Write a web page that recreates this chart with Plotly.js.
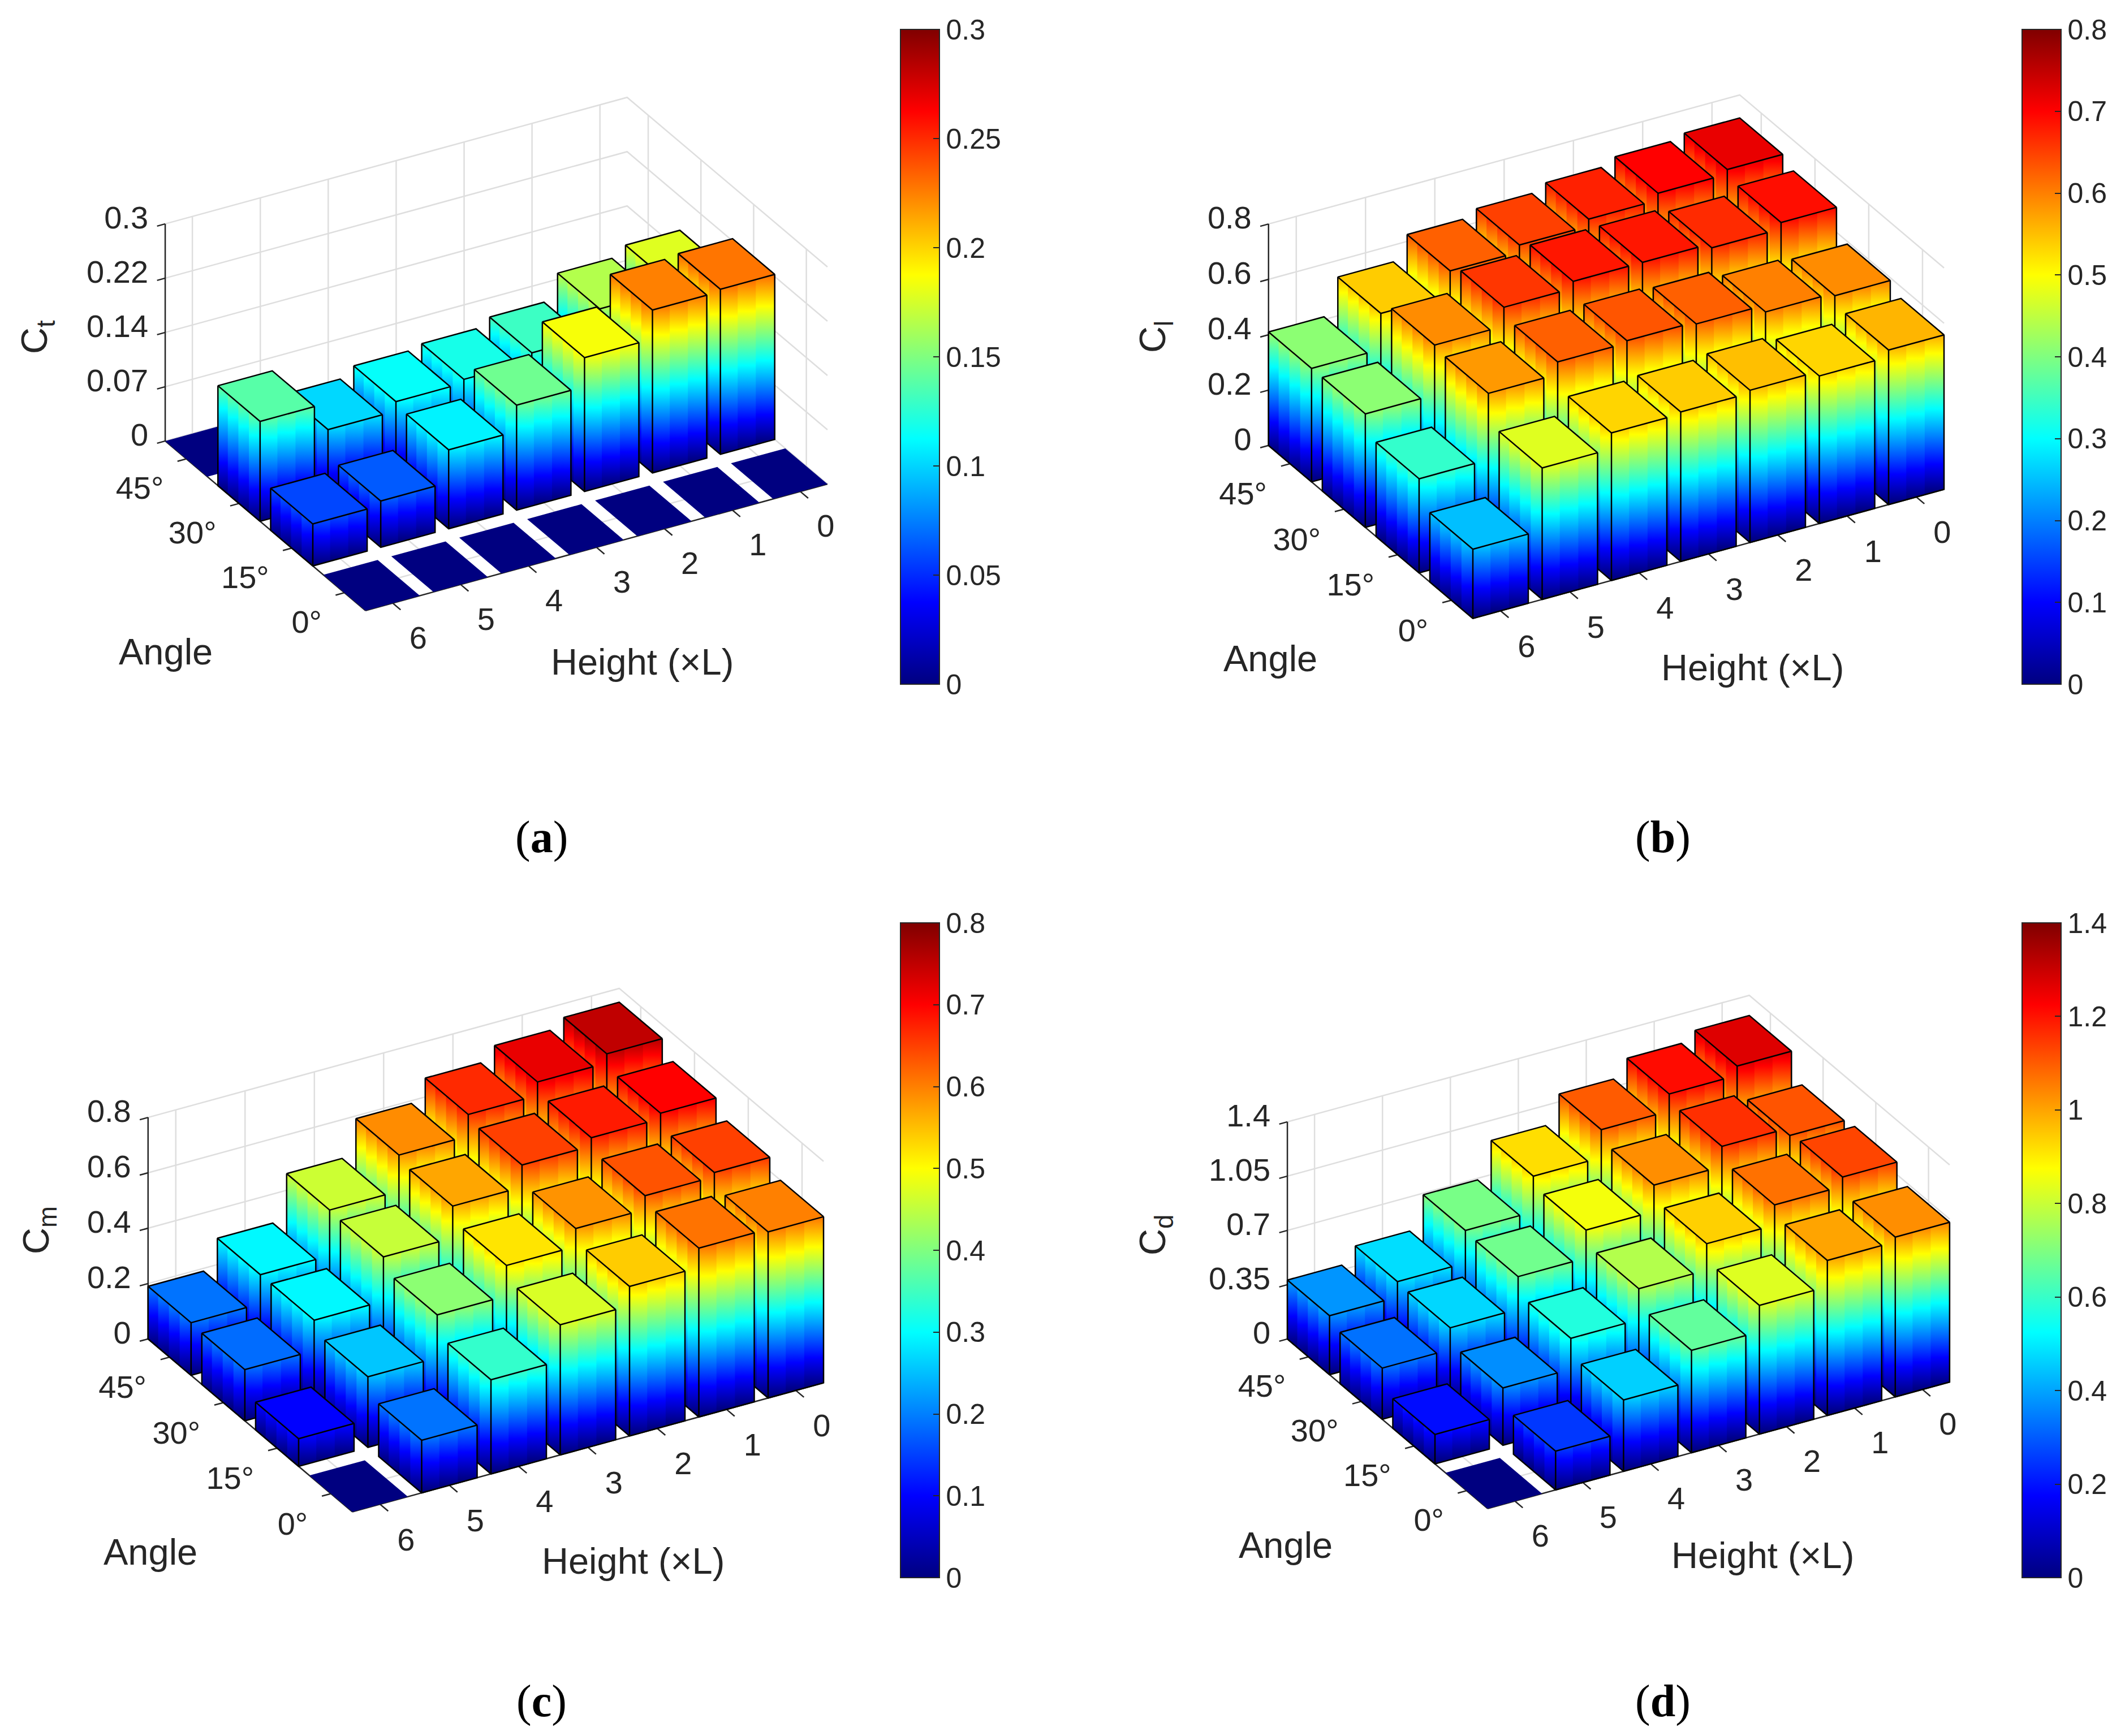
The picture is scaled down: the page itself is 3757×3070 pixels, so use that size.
<!DOCTYPE html>
<html>
<head>
<meta charset="utf-8">
<script src="https://cdn.plot.ly/plotly-3.0.1.min.js"></script>
<style>
  html, body { margin: 0; padding: 0; background: #ffffff; }
  #chart { width: 3757px; height: 3070px; }
</style>
</head>
<body>
<div id="chart"></div>
<script>
// ================= data =================
const heights = [6, 5, 4, 3, 2, 1, 0];          // Height (xL) tick labels, front-left to right
const angles = ['0°', '15°', '30°', '45°'];      // Angle tick labels, front to back

// rows = angles (0°,15°,30°,45°); columns = heights (6..0)
const ctValues = [
  [0, 0, 0, 0, 0, 0, 0],
  [0.058, 0.064, 0.109, 0.145, 0.185, 0.225, 0.228],
  [0.138, 0.101, 0.114, 0.119, 0.130, 0.165, 0.178],
  [0, 0, 0, 0, 0, 0, 0]
];
const clValues = [
  [0.250, 0.475, 0.533, 0.540, 0.550, 0.533, 0.558],
  [0.340, 0.580, 0.625, 0.633, 0.625, 0.600, 0.590],
  [0.410, 0.590, 0.658, 0.683, 0.683, 0.667, 0.690],
  [0.410, 0.540, 0.625, 0.650, 0.675, 0.700, 0.717]
];
const cmValues = [
  [0, 0.190, 0.340, 0.470, 0.540, 0.610, 0.600],
  [0.100, 0.255, 0.410, 0.520, 0.585, 0.635, 0.650],
  [0.185, 0.295, 0.455, 0.570, 0.650, 0.680, 0.700],
  [0.190, 0.295, 0.460, 0.590, 0.668, 0.717, 0.750]
];
const cdValues = [
  [0, 0.250, 0.460, 0.660, 0.830, 1.000, 1.030],
  [0.190, 0.370, 0.570, 0.770, 0.940, 1.070, 1.130],
  [0.330, 0.470, 0.680, 0.860, 1.030, 1.160, 1.110],
  [0.380, 0.480, 0.690, 0.920, 1.100, 1.210, 1.270]
];

const zMax = { a: 0.3, b: 0.8, c: 0.8, d: 1.4 };
const zTickVals = {
  a: [0, 0.075, 0.15, 0.225, 0.3],
  b: [0, 0.2, 0.4, 0.6, 0.8],
  c: [0, 0.2, 0.4, 0.6, 0.8],
  d: [0, 0.35, 0.7, 1.05, 1.4]
};
const zTickText = {
  a: ['0', '0.07', '0.14', '0.22', '0.3'],
  b: ['0', '0.2', '0.4', '0.6', '0.8'],
  c: ['0', '0.2', '0.4', '0.6', '0.8'],
  d: ['0', '0.35', '0.7', '1.05', '1.4']
};
const cbDtick = { a: 0.05, b: 0.1, c: 0.1, d: 0.2 };
const zTitles = { a: 'C<sub>t</sub>', b: 'C<sub>l</sub>', c: 'C<sub>m</sub>', d: 'C<sub>d</sub>' };
const panelLetters = ['a', 'b', 'c', 'd'];
const panelValues = { a: ctValues, b: clValues, c: cmValues, d: cdValues };

// ================= style / layout =================
const FONT = 'Liberation Sans, Arial, sans-serif';
const TXT = '#262626';
const GRID = '#dedede';
const jetStops = [
  [0, [0, 0, 128]], [0.125, [0, 0, 255]], [0.375, [0, 255, 255]],
  [0.625, [255, 255, 0]], [0.875, [255, 0, 0]], [1, [128, 0, 0]]
];
const jet = jetStops.map(s => [s[0], 'rgb(' + s[1].join(',') + ')']);
function jetColor(f) {
  f = Math.max(0, Math.min(1, f));
  for (let i = 1; i < jetStops.length; i++) {
    if (f <= jetStops[i][0]) {
      const a = jetStops[i - 1], b = jetStops[i];
      const t = (f - a[0]) / (b[0] - a[0]);
      const c = a[1].map((v, k) => Math.round(v + t * (b[1][k] - v)));
      return 'rgb(' + c.join(',') + ')';
    }
  }
  return 'rgb(128,0,0)';
}

const W = 3757, H = 3070;
// oblique (orthographic) projection of the 3-D bar axes onto the page
const U = [120.1, -32.9];   // one step along Height index
const V = [-93.2, -78.9];   // one step along Angle index
const ZH = 384;             // full z-range height
const panelGeom = {
  a: { O: [657, 1035], s: 1.0 },
  b: { O: [2615, 1048], s: 1.02 },
  c: { O: [634, 2628], s: 1.02 },
  d: { O: [2641, 2623], s: 1.0 }
};
const cbLeft = { a: 1592, b: 3575, c: 1592, d: 3575 };
const cbMid = { a: 631, b: 631, c: 2211, d: 2211 };
const titlePos = {
  a: { angle: [293, 1152], height: [1135, 1170], z: [65, 596], tag: [957, 1480] },
  b: { angle: [2246, 1164], height: [3098, 1180], z: [2042, 596], tag: [2940, 1480] },
  c: { angle: [266, 2744], height: [1119, 2760], z: [68, 2176], tag: [957, 3008] },
  d: { angle: [2273, 2732], height: [3116, 2750], z: [2042, 2184], tag: [2940, 3008] }
};
const HW = 0.4;                 // bar half width
const XLO = -0.4, XHI = heights.length - 1 + 0.4;
const YLO = -0.4, YHI = angles.length - 1 + 0.4;
const SLICES_LEFT = 4, SLICES_FRONT = 3;

function proj(P, X, Y, Z) {
  return [P.O[0] + P.s * (X * U[0] + Y * V[0]),
          P.O[1] + P.s * (X * U[1] + Y * V[1] - (Z / P.zmax) * ZH)];
}

const traces = [];
function pushPath(store, pts) {
  pts.forEach(p => { store.x.push(p[0]); store.y.push(p[1]); });
  store.x.push(null); store.y.push(null);
}
function lineTrace(store, color, width) {
  return { type: 'scatter', mode: 'lines', x: store.x, y: store.y,
           line: { color: color, width: width }, connectgaps: false,
           hoverinfo: 'skip', showlegend: false, cliponaxis: false };
}

panelLetters.forEach(p => {
  const P = Object.assign({ zmax: zMax[p] }, panelGeom[p]);
  const vals = panelValues[p];

  // ---- grid on back walls and floor ----
  const grid = { x: [], y: [] };
  heights.forEach((h, i) => {
    pushPath(grid, [proj(P, i, YHI, 0), proj(P, i, YHI, P.zmax)]);
    pushPath(grid, [proj(P, i, YLO, 0), proj(P, i, YHI, 0)]);
  });
  angles.forEach((a, j) => {
    pushPath(grid, [proj(P, XHI, j, 0), proj(P, XHI, j, P.zmax)]);
    pushPath(grid, [proj(P, XLO, j, 0), proj(P, XHI, j, 0)]);
  });
  zTickVals[p].forEach(z => {
    pushPath(grid, [proj(P, XLO, YHI, z), proj(P, XHI, YHI, z), proj(P, XHI, YLO, z)]);
  });
  traces.push(lineTrace(grid, GRID, 2.5));

  // ---- axis lines and tick marks ----
  const ax = { x: [], y: [] };
  pushPath(ax, [proj(P, XLO, YHI, 0), proj(P, XLO, YHI, P.zmax)]);
  pushPath(ax, [proj(P, XLO, YLO, 0), proj(P, XHI, YLO, 0)]);
  pushPath(ax, [proj(P, XLO, YLO, 0), proj(P, XLO, YHI, 0)]);
  heights.forEach((h, i) => pushPath(ax, [proj(P, i, YLO, 0), proj(P, i, YLO - 0.15, 0)]));
  angles.forEach((a, j) => pushPath(ax, [proj(P, XLO, j, 0), proj(P, XLO - 0.13, j, 0)]));
  zTickVals[p].forEach(z => pushPath(ax, [proj(P, XLO, YHI, z), proj(P, XLO - 0.12, YHI, z)]));
  traces.push(lineTrace(ax, TXT, 2.5));

  // ---- bars, painted back to front ----
  for (let ai = angles.length - 1; ai >= 0; ai--) {
    for (let hi = heights.length - 1; hi >= 0; hi--) {
      const v = vals[ai][hi];
      const x0 = hi - HW, x1 = hi + HW, y0 = ai - HW, y1 = ai + HW;
      if (v > 0) {
        const faces = [
          { A: [x0, y1], B: [x0, y0], K: SLICES_LEFT },   // left face
          { A: [x0, y0], B: [x1, y0], K: SLICES_FRONT }   // front face
        ];
        faces.forEach(F => {
          for (let k = 0; k < F.K; k++) {
            const t0 = Math.max(0, k / F.K - 0.015), t1 = Math.min(1, (k + 1) / F.K + 0.015);
            const a = [F.A[0] + (F.B[0] - F.A[0]) * t0, F.A[1] + (F.B[1] - F.A[1]) * t0];
            const b = [F.A[0] + (F.B[0] - F.A[0]) * t1, F.A[1] + (F.B[1] - F.A[1]) * t1];
            const tm = (k + 0.5) / F.K;
            const m = [F.A[0] + (F.B[0] - F.A[0]) * tm, F.A[1] + (F.B[1] - F.A[1]) * tm];
            const pts = [proj(P, a[0], a[1], 0), proj(P, b[0], b[1], 0), proj(P, b[0], b[1], v),
                         proj(P, a[0], a[1], v), proj(P, a[0], a[1], 0)];
            traces.push({
              type: 'scatter', mode: 'none', fill: 'toself',
              x: pts.map(q => q[0]), y: pts.map(q => q[1]),
              fillcolor: jetColor(v / P.zmax / 2),
              fillgradient: { type: 'vertical', colorscale: jet,
                              start: proj(P, m[0], m[1], 0)[1], stop: proj(P, m[0], m[1], P.zmax)[1] },
              hoverinfo: 'skip', showlegend: false
            });
          }
        });
      }
      const top = [proj(P, x0, y0, v), proj(P, x1, y0, v), proj(P, x1, y1, v), proj(P, x0, y1, v), proj(P, x0, y0, v)];
      traces.push({
        type: 'scatter', mode: 'none', fill: 'toself',
        x: top.map(q => q[0]), y: top.map(q => q[1]),
        fillcolor: jetColor(v / P.zmax), hoverinfo: 'skip', showlegend: false
      });
      if (v > 0) {
        const e = { x: [], y: [] };
        pushPath(e, top);
        pushPath(e, [proj(P, x0, y1, v), proj(P, x0, y1, 0), proj(P, x0, y0, 0), proj(P, x1, y0, 0), proj(P, x1, y0, v)]);
        pushPath(e, [proj(P, x0, y0, 0), proj(P, x0, y0, v)]);
        traces.push(lineTrace(e, '#000000', 2.5));
      }
    }
  }

  // ---- tick labels ----
  const hl = heights.map((h, i) => { const q = proj(P, i, YLO, 0); return [q[0] + 45 * P.s, q[1] + 66 * P.s]; });
  traces.push({ type: 'scatter', mode: 'text', x: hl.map(q => q[0]), y: hl.map(q => q[1]),
    text: heights.map(String), textposition: 'middle center',
    textfont: { family: FONT, size: 56, color: TXT }, hoverinfo: 'skip', showlegend: false, cliponaxis: false });
  const al = angles.map((a, j) => { const q = proj(P, XLO, j, 0); return [q[0] - 40 * P.s, q[1] + 57 * P.s]; });
  traces.push({ type: 'scatter', mode: 'text', x: al.map(q => q[0]), y: al.map(q => q[1]),
    text: angles, textposition: 'middle left',
    textfont: { family: FONT, size: 56, color: TXT }, hoverinfo: 'skip', showlegend: false, cliponaxis: false });
  const zl = zTickVals[p].map(z => { const q = proj(P, XLO, YHI, z); return [q[0] - 30, q[1] - 6]; });
  traces.push({ type: 'scatter', mode: 'text', x: zl.map(q => q[0]), y: zl.map(q => q[1]),
    text: zTickText[p], textposition: 'middle left',
    textfont: { family: FONT, size: 56, color: TXT }, hoverinfo: 'skip', showlegend: false, cliponaxis: false });

  // ---- colorbar ----
  traces.push({
    type: 'scatter', mode: 'markers', x: [null, null], y: [null, null],
    marker: { color: [0, zMax[p]], cmin: 0, cmax: zMax[p], colorscale: jet, opacity: 0, size: 1,
      showscale: true,
      colorbar: {
        x: cbLeft[p] / W, xanchor: 'left', y: 1 - cbMid[p] / H, yanchor: 'middle',
        len: 1158, lenmode: 'pixels', thickness: 69, thicknessmode: 'pixels',
        outlinewidth: 2, outlinecolor: TXT, borderwidth: 0, xpad: 0, ypad: 0,
        tick0: 0, dtick: cbDtick[p],
        ticks: 'inside', ticklen: 12, tickwidth: 2, tickcolor: TXT,
        tickfont: { family: FONT, size: 50, color: TXT }
      } },
    hoverinfo: 'skip', showlegend: false
  });
});

// ================= titles =================
const annotations = [];
panelLetters.forEach(p => {
  const L = titlePos[p];
  const ann = (pos, text, extra) => Object.assign({
    xref: 'x', yref: 'y', x: pos[0], y: pos[1],
    xanchor: 'center', yanchor: 'middle', showarrow: false, text: text,
    font: { family: FONT, size: 65, color: TXT }
  }, extra || {});
  annotations.push(ann(L.angle, 'Angle'));
  annotations.push(ann(L.height, 'Height (×L)'));
  annotations.push(ann(L.z, zTitles[p], { textangle: -90 }));
  annotations.push(ann(L.tag, '(<b>' + p + '</b>)', {
    font: { family: 'Liberation Serif, Times New Roman, serif', size: 80, color: '#000000' }
  }));
});

const layout = {
  width: W, height: H,
  margin: { l: 0, r: 0, t: 0, b: 0 },
  paper_bgcolor: '#ffffff', plot_bgcolor: '#ffffff',
  showlegend: false,
  xaxis: { range: [0, W], visible: false, fixedrange: true, domain: [0, 1] },
  yaxis: { range: [H, 0], visible: false, fixedrange: true, domain: [0, 1] },
  annotations: annotations,
  font: { family: FONT, color: TXT }
};

Plotly.newPlot('chart', traces, layout, { displayModeBar: false, staticPlot: true });
</script>
</body>
</html>
